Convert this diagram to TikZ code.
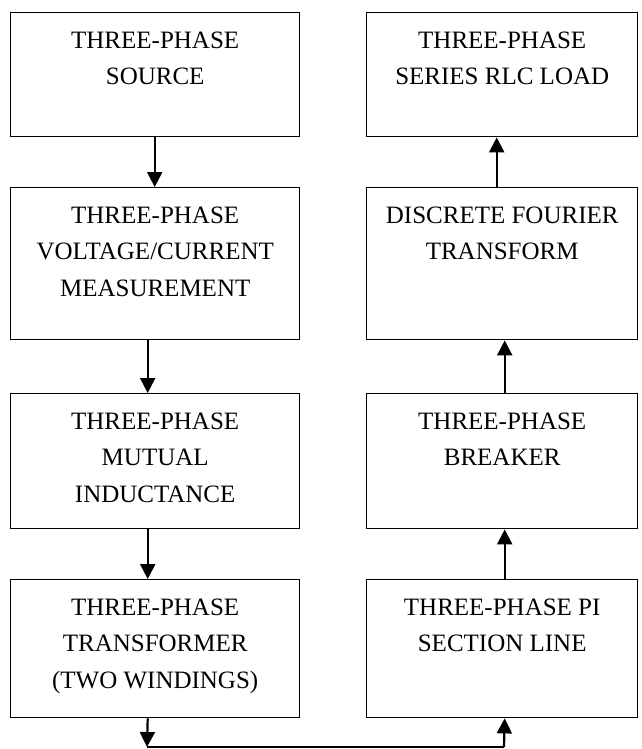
\documentclass[tikz,border=0pt]{standalone}
\usepackage{fontspec}
\setmainfont{Liberation Serif}
\usetikzlibrary{arrows.meta}
\begin{document}
\begin{tikzpicture}[x=1pt,y=-1pt,
  box/.style={draw=black, line width=1.4pt, rectangle, inner sep=0pt, anchor=north west,
    minimum width=289pt},
  rbox/.style={box, minimum width=271pt},
  lbl/.style={anchor=north, inner sep=0pt, align=center,
    font=\fontsize{25}{36.5}\selectfont},
  arr/.style={line width=2.2pt, -{Triangle[length=15pt,width=15pt]}},
  link/.style={line width=2.2pt}]
\fill[white] (0,0) rectangle (641,749);
\useasboundingbox (0,0) rectangle (641,749);
% left column
\node[box, minimum height=124pt] (L1) at (10,12) {};
\node[box, minimum height=152pt] (L2) at (10,187) {};
\node[box, minimum height=135pt] (L3) at (10,393) {};
\node[box, minimum height=138pt] (L4) at (10,579) {};
% right column
\node[rbox, minimum height=124pt] (R1) at (366,12) {};
\node[rbox, minimum height=152pt] (R2) at (366,187) {};
\node[rbox, minimum height=135pt] (R3) at (366,393) {};
\node[rbox, minimum height=138pt] (R4) at (366,579) {};
% labels
\node[lbl] (L1t) at ([yshift=-19.5pt]L1.north) {THREE-PHASE\\SOURCE};
\node[lbl] (L2t) at ([yshift=-19.5pt]L2.north) {THREE-PHASE\\VOLTAGE/CURRENT\\MEASUREMENT};
\node[lbl] (L3t) at ([yshift=-19.5pt]L3.north) {THREE-PHASE\\MUTUAL\\INDUCTANCE};
\node[lbl] (L4t) at ([yshift=-19.5pt]L4.north) {THREE-PHASE\\TRANSFORMER\\(TWO WINDINGS)};
\node[lbl] (R1t) at ([yshift=-19.5pt]R1.north) {THREE-PHASE\\SERIES RLC LOAD};
\node[lbl] (R2t) at ([yshift=-19.5pt]R2.north) {DISCRETE FOURIER\\TRANSFORM};
\node[lbl] (R3t) at ([yshift=-19.5pt]R3.north) {THREE-PHASE\\BREAKER};
\node[lbl] (R4t) at ([yshift=-19.5pt]R4.north) {THREE-PHASE PI\\SECTION LINE};
% connectors
\draw[arr] ([xshift=-0.5pt]L1.south) -- ([xshift=-0.5pt]L2.north);
\draw[arr] ([xshift=-7.5pt]L2.south) -- ([xshift=-7.5pt]L3.north);
\draw[arr] ([xshift=-7.5pt]L3.south) -- ([xshift=-7.5pt]L4.north);
\coordinate (BL) at (147,747);
\coordinate (BR) at (504,747);
\draw[arr] ([xshift=-7.5pt]L4.south) -- (BL);
\draw[link] (BL) -- (BR);
\draw[arr] (BR) -- ([xshift=2.5pt]R4.south);
\draw[arr] ([xshift=2.5pt]R4.north) -- ([xshift=2.5pt]R3.south);
\draw[arr] ([xshift=2.5pt]R3.north) -- ([xshift=2.5pt]R2.south);
\draw[arr] ([xshift=-5.5pt]R2.north) -- ([xshift=-5.5pt]R1.south);
\end{tikzpicture}
\end{document}
